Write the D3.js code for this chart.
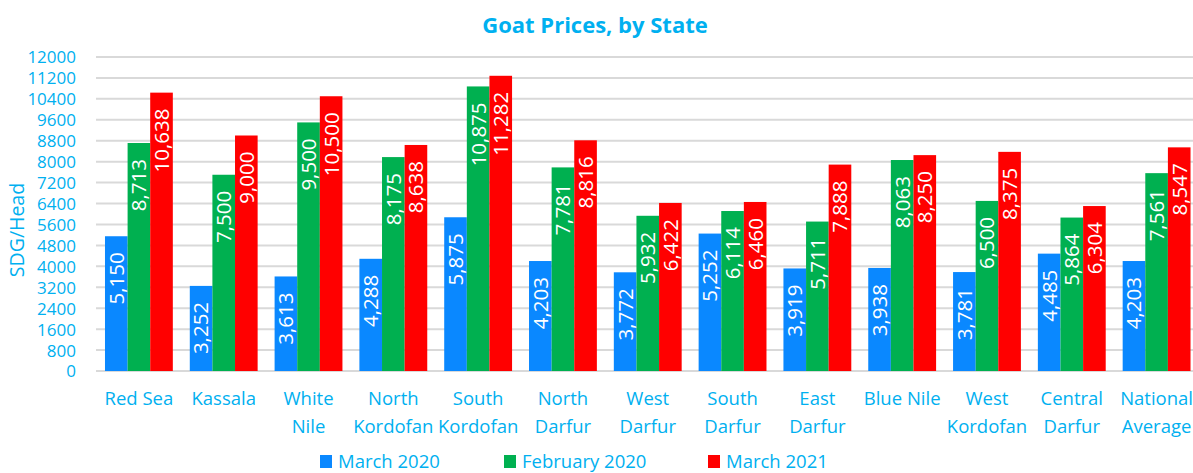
<!DOCTYPE html>
<html>
<head>
<meta charset="utf-8">
<script src="https://cdn.jsdelivr.net/npm/d3@7/dist/d3.min.js"></script>
<style>
  html, body { margin: 0; padding: 0; background: #fff; }
  svg { display: block; }
  text { font-family: "Open Sans", sans-serif; }
</style>
</head>
<body>
<svg id="chart" width="1193" height="473"></svg>
<script>
const categories = ["Red Sea", "Kassala", "White Nile", "North Kordofan", "South Kordofan",
  "North Darfur", "West Darfur", "South Darfur", "East Darfur", "Blue Nile",
  "West Kordofan", "Central Darfur", "National Average"];
const categoryLines = [["Red Sea"], ["Kassala"], ["White", "Nile"], ["North", "Kordofan"],
  ["South", "Kordofan"], ["North", "Darfur"], ["West", "Darfur"], ["South", "Darfur"],
  ["East", "Darfur"], ["Blue Nile"], ["West", "Kordofan"], ["Central", "Darfur"], ["National", "Average"]];
const seriesNames = ["March 2020", "February 2020", "March 2021"];
const march2020 = [5150, 3252, 3613, 4288, 5875, 4203, 3772, 5252, 3919, 3938, 3781, 4485, 4203];
const february2020 = [8713, 7500, 9500, 8175, 10875, 7781, 5932, 6114, 5711, 8063, 6500, 5864, 7561];
const march2021 = [10638, 9000, 10500, 8638, 11282, 8816, 6422, 6460, 7888, 8250, 8375, 6304, 8547];
const yTicks = [0, 800, 1600, 2400, 3200, 4000, 4800, 5600, 6400, 7200, 8000, 8800, 9600, 10400, 11200, 12000];
const colors = ["#0A88FF", "#00B050", "#FF0000"];
const textColor = "#00B0F0";

const series = [march2020, february2020, march2021];
const svg = d3.select("#chart");

const x0 = d3.scaleBand().domain(categories).range([96.5, 1199]).paddingInner(0.2).paddingOuter(0.1);
const x1 = d3.scaleBand().domain(seriesNames).range([0, x0.bandwidth()]);
const y = d3.scaleLinear().domain([0, 12000]).range([371, 57]);

// gridlines
svg.append("g").selectAll("line").data(yTicks).join("line")
  .attr("x1", 96).attr("x2", 1193)
  .attr("y1", d => y(d)).attr("y2", d => y(d))
  .attr("stroke", "#D9D9D9").attr("stroke-width", 2);

// y axis labels
const yAxis = d3.axisLeft(y).tickValues(yTicks).tickSize(0).tickPadding(0).tickFormat(d3.format("d"));
const ga = svg.append("g").attr("transform", "translate(76,0)").call(yAxis);
ga.select(".domain").remove();
ga.selectAll("text").attr("fill", textColor).attr("font-size", 17)
  .attr("font-family", "Lato, sans-serif").attr("dy", "0.35em");

// bars
const groups = svg.append("g").selectAll("g").data(categories).join("g")
  .attr("transform", d => `translate(${x0(d)},0)`);

groups.each(function(cat, i) {
  const g = d3.select(this);
  seriesNames.forEach((s, j) => {
    const v = series[j][i];
    g.append("rect")
      .attr("x", x1(s)).attr("width", x1.bandwidth())
      .attr("y", y(v)).attr("height", y(0) - y(v))
      .attr("fill", colors[j]);
  });
  seriesNames.forEach((s, j) => {
    const v = series[j][i];
    const cx = x1(s) + x1.bandwidth() / 2;
    const ty = y(v) + 16;
    g.append("text")
      .attr("transform", `translate(${cx},${ty}) rotate(-90)`)
      .attr("text-anchor", "end")
      .attr("dy", "0.36em")
      .attr("fill", "#fff").attr("font-size", 20.5)
      .text(d3.format(",")(v));
  });
});

// category labels
categories.forEach((c, i) => {
  const t = svg.append("text")
    .attr("x", x0(c) + x0.bandwidth() / 2)
    .attr("y", 405)
    .attr("text-anchor", "middle")
    .attr("fill", textColor).attr("font-size", 18.5);
  categoryLines[i].forEach((ln, k) => {
    t.append("tspan").attr("x", x0(c) + x0.bandwidth() / 2).attr("dy", k === 0 ? 0 : 27.5).text(ln);
  });
});

// y label
svg.append("text")
  .attr("transform", "translate(17,230) rotate(-90)")
  .attr("text-anchor", "middle").attr("dy", "0.36em")
  .attr("fill", textColor).attr("font-size", 19.5)
  .text("SDG/Head");

// title
svg.append("text")
  .attr("x", 595).attr("y", 33)
  .attr("text-anchor", "middle")
  .attr("fill", textColor).attr("font-size", 22).attr("font-weight", "bold")
  .text("Goat Prices, by State");

// legend
const legendX = [320, 504, 708];
const lg = svg.append("g").selectAll("g").data(seriesNames).join("g")
  .attr("transform", (d, i) => `translate(${legendX[i]},455)`);
lg.append("rect").attr("width", 12).attr("height", 13).attr("fill", (d, i) => colors[i]);
lg.append("text").attr("x", 18).attr("y", 6.5).attr("dy", "0.36em")
  .attr("fill", textColor).attr("font-size", 18.5).text(d => d);
</script>
</body>
</html>
